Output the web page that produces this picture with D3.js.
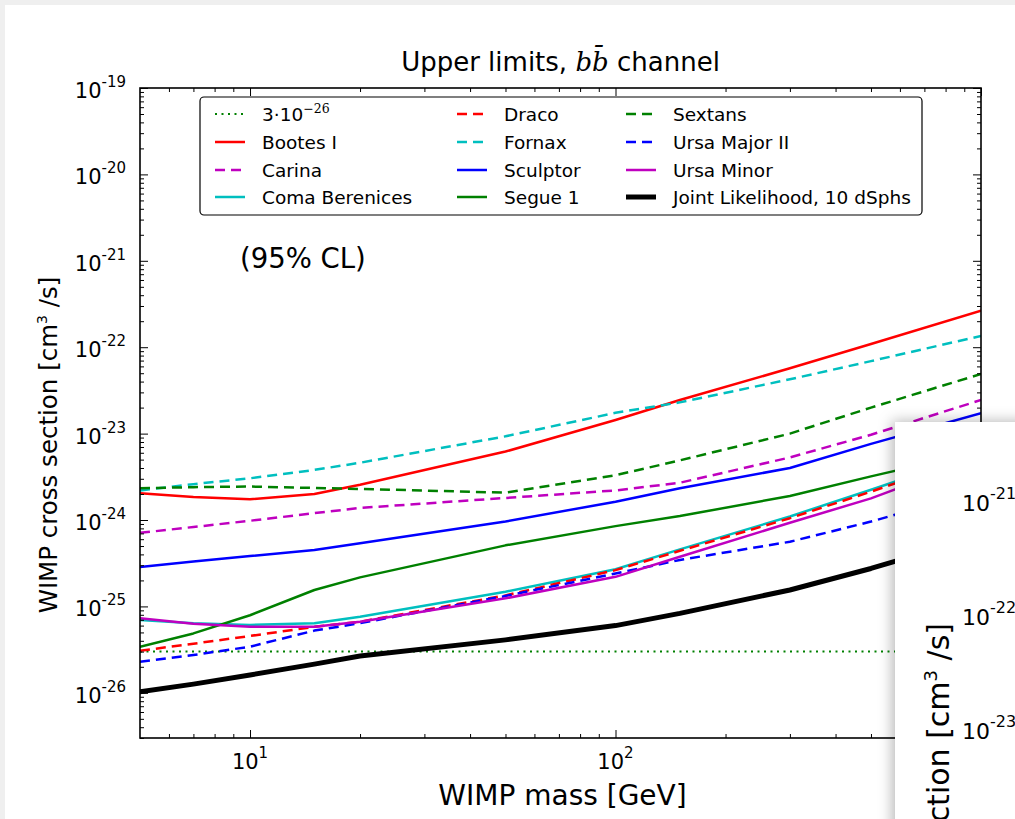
<!DOCTYPE html>
<html><head><meta charset="utf-8">
<script src="https://cdn.jsdelivr.net/npm/d3@7"></script>
<style>
html,body{margin:0;padding:0;background:#efefef;overflow:hidden}
svg{display:block}
text{font-family:"DejaVu Sans",sans-serif;fill:#000}
</style></head><body>
<svg id="c" width="1015" height="819"></svg>
<script>
// ---- data ----
const masses = [5, 7, 10, 15, 20, 50, 100, 150, 300, 500, 1000];
const thermal = [3e-26, 3e-26, 3e-26, 3e-26, 3e-26, 3e-26, 3e-26, 3e-26, 3e-26, 3e-26, 3e-26];
const bootesI = [2.04e-24, 1.85e-24, 1.74e-24, 2.0e-24, 2.56e-24, 6.2e-24, 1.44e-23, 2.45e-23, 5.7e-23, 1.09e-22, 2.64e-22];
const carina = [7.1e-25, 8.3e-25, 9.8e-25, 1.2e-24, 1.38e-24, 1.8e-24, 2.2e-24, 2.7e-24, 5.3e-24, 9.7e-24, 2.45e-23];
const comaBerenices = [6.97e-26, 6.4e-26, 6.1e-26, 6.4e-26, 7.6e-26, 1.48e-25, 2.69e-25, 4.57e-25, 1.1e-24, 2.24e-24, 6.0e-24];
const draco = [3.07e-26, 3.7e-26, 4.55e-26, 5.8e-26, 6.65e-26, 1.34e-25, 2.63e-25, 4.4e-25, 1.05e-24, 2.13e-24, 5.8e-24];
const fornax = [2.2e-24, 2.6e-24, 3.04e-24, 3.8e-24, 4.6e-24, 9.3e-24, 1.74e-23, 2.3e-23, 4.25e-23, 6.9e-23, 1.35e-22];
const sculptor = [2.86e-25, 3.3e-25, 3.83e-25, 4.5e-25, 5.37e-25, 9.6e-25, 1.63e-24, 2.33e-24, 4.0e-24, 7.6e-24, 1.72e-23];
const segue1 = [3.42e-26, 4.87e-26, 7.9e-26, 1.55e-25, 2.17e-25, 5.09e-25, 8.5e-25, 1.11e-24, 1.9e-24, 3.2e-24, 6.3e-24];
const sextans = [2.33e-24, 2.4e-24, 2.44e-24, 2.35e-24, 2.29e-24, 2.07e-24, 3.3e-24, 4.9e-24, 1.0e-23, 2.0e-23, 4.9e-23];
const ursaMajorII = [2.29e-26, 2.74e-26, 3.42e-26, 5.25e-26, 6.4e-26, 1.32e-25, 2.4e-25, 3.45e-25, 5.6e-25, 9.6e-25, 2.2e-24];
const ursaMinor = [7.28e-26, 6.3e-26, 5.8e-26, 5.8e-26, 6.65e-26, 1.24e-25, 2.2e-25, 3.76e-25, 9.3e-25, 1.78e-24, 5.3e-24];
const jointLikelihood = [1.03e-26, 1.26e-26, 1.61e-26, 2.15e-26, 2.67e-26, 4.1e-26, 6.0e-26, 8.3e-26, 1.55e-25, 2.75e-25, 6.5e-25];

const seriesLabels = ["3·10", "Bootes I", "Carina", "Coma Berenices", "Draco", "Fornax", "Sculptor", "Segue 1", "Sextans", "Ursa Major II", "Ursa Minor", "Joint Likelihood, 10 dSphs"];
const xMajorTicks = [10, 100, 1000];
const xTickExponents = ["1", "2", "3"];
const yMajorTicks = [1e-19, 1e-20, 1e-21, 1e-22, 1e-23, 1e-24, 1e-25, 1e-26];
const yTickExponents = ["-19", "-20", "-21", "-22", "-23", "-24", "-25", "-26"];
const cardTickExponents = ["-21", "-22", "-23"];

// ---- styles (kept apart from data) ----
const series = [
  {v: thermal,         c: "#008000", w: 2,   d: "2,4.5"},
  {v: bootesI,         c: "#ff0000", w: 2.5, d: null},
  {v: carina,          c: "#bf00bf", w: 2.5, d: "10,6"},
  {v: comaBerenices,   c: "#00bfbf", w: 2.5, d: null},
  {v: draco,           c: "#ff0000", w: 2.5, d: "10,6"},
  {v: fornax,          c: "#00bfbf", w: 2.5, d: "10,6"},
  {v: sculptor,        c: "#0000ff", w: 2.5, d: null},
  {v: segue1,          c: "#008000", w: 2.5, d: null},
  {v: sextans,         c: "#008000", w: 2.5, d: "10,6"},
  {v: ursaMajorII,     c: "#0000ff", w: 2.5, d: "10,6"},
  {v: ursaMinor,       c: "#bf00bf", w: 2.5, d: null},
  {v: jointLikelihood, c: "#000000", w: 5,   d: null}
].map((s, i) => Object.assign(s, {label: seriesLabels[i]}));

const W = 1015, H = 819;
const L = 140, R = 981, T = 88, B = 738;
const svg = d3.select("#c");

// page background
svg.append("rect").attr("width", W).attr("height", H).attr("fill", "#efefef");
svg.append("rect").attr("x", 5).attr("y", 5).attr("width", W).attr("height", H).attr("fill", "#fff");

const x = d3.scaleLog().domain([5, 1000]).range([L, R]);
const y = d3.scaleLog().domain([3e-27, 1e-19]).range([B, T]);

const defs = svg.append("defs");
defs.append("clipPath").attr("id", "plot").append("rect")
  .attr("x", L).attr("y", T).attr("width", R - L).attr("height", B - T);

// lines
const line = d3.line().x((d, i) => x(masses[i])).y(d => y(d));
const lg = svg.append("g").attr("clip-path", "url(#plot)");
series.forEach(s => {
  lg.append("path").attr("d", line(s.v)).attr("fill", "none")
    .attr("stroke", s.c).attr("stroke-width", s.w)
    .attr("stroke-dasharray", s.d).attr("stroke-linejoin", "round")
    .attr("stroke-linecap", s.d ? "butt" : "round");
});

// ticks
const xMinor = [];
[1, 10, 100].forEach(dd => { for (let k = 2; k <= 9; k++) { const v = k * dd; if (v > 5 && v < 1000) xMinor.push(v); } });
const yMinor = [];
for (let e = -27; e <= -20; e++) { for (let k = 2; k <= 9; k++) { const v = k * Math.pow(10, e); if (v > 2.99e-27 && v < 1e-19) yMinor.push(v); } }

function ax(gen, scale, vals, size, tr) {
  const g = svg.append("g").attr("transform", tr)
    .call(gen(scale).tickValues(vals).tickSizeInner(-size).tickSizeOuter(0).tickFormat(""));
  g.select(".domain").remove();
  g.selectAll("line").attr("stroke", "#000").attr("stroke-width", 1);
}
ax(d3.axisBottom, x, xMajorTicks, 8, `translate(0,${B})`);
ax(d3.axisBottom, x, xMinor, 4, `translate(0,${B})`);
ax(d3.axisTop, x, xMajorTicks, 8, `translate(0,${T})`);
ax(d3.axisTop, x, xMinor, 4, `translate(0,${T})`);
ax(d3.axisLeft, y, yMajorTicks, 8, `translate(${L},0)`);
ax(d3.axisLeft, y, yMinor, 4, `translate(${L},0)`);
ax(d3.axisRight, y, yMajorTicks, 8, `translate(${R},0)`);
ax(d3.axisRight, y, yMinor, 4, `translate(${R},0)`);

// frame
svg.append("rect").attr("x", L).attr("y", T).attr("width", R - L).attr("height", B - T)
  .attr("fill", "none").attr("stroke", "#000").attr("stroke-width", 1.6);

// y tick labels
yMajorTicks.forEach((v, i) => {
  const t = svg.append("text").attr("x", 126).attr("y", y(v) + 10)
    .attr("text-anchor", "end").attr("font-size", 21);
  t.append("tspan").text("10");
  t.append("tspan").attr("dy", -11).attr("font-size", 15).text(yTickExponents[i]);
});
// x tick labels
xMajorTicks.forEach((v, i) => {
  const t = svg.append("text").attr("x", x(v)).attr("y", 769)
    .attr("text-anchor", "middle").attr("font-size", 21);
  t.append("tspan").text("10");
  t.append("tspan").attr("dy", -11).attr("font-size", 15).text(xTickExponents[i]);
});

// axis titles
svg.append("text").attr("x", (L + R) / 2 + 2).attr("y", 805).attr("text-anchor", "middle")
  .attr("font-size", 28).text("WIMP mass [GeV]");
const yl = svg.append("text").attr("transform", "translate(57,445) rotate(-90)")
  .attr("text-anchor", "middle").attr("font-size", 24.5);
yl.append("tspan").text("WIMP cross section [cm");
yl.append("tspan").attr("dy", -10).attr("font-size", 14).text("3");
yl.append("tspan").attr("dy", 10).text(" /s]");

// title
const tt = svg.append("text").attr("x", (L + R) / 2).attr("y", 71).attr("text-anchor", "middle").attr("font-size", 26);
tt.append("tspan").text("Upper limits, ");
tt.append("tspan").attr("font-family", "DejaVu Serif").attr("font-style", "italic").text("b");
tt.append("tspan").attr("font-family", "DejaVu Serif").attr("font-style", "italic").text("b\u0304");
tt.append("tspan").text(" channel");

// (95% CL)
svg.append("text").attr("x", 240).attr("y", 268).attr("font-family", "Liberation Sans, Arial, sans-serif")
  .attr("font-size", 27.5).text("(95% CL)");

// legend
svg.append("rect").attr("x", 200).attr("y", 97).attr("width", 722).attr("height", 118)
  .attr("rx", 4).attr("fill", "#fff").attr("stroke", "#000").attr("stroke-width", 1.2);
const colX = [215, 457, 626];
const rowY = [114, 142, 170, 197];
series.forEach((s, i) => {
  const col = Math.floor(i / 4), row = i % 4;
  const hx = colX[col], hy = rowY[row];
  svg.append("line").attr("x1", hx).attr("x2", hx + 30).attr("y1", hy).attr("y2", hy)
    .attr("stroke", s.c).attr("stroke-width", s.w).attr("stroke-dasharray", s.d);
  const t = svg.append("text").attr("x", hx + 47).attr("y", hy + 6.5).attr("font-size", 18.5);
  t.append("tspan").text(s.label);
  if (i === 0) {
    t.append("tspan").attr("dy", -8).attr("font-size", 12.5).attr("font-family", "DejaVu Serif").text("\u221226");
  }
});

// overlapping card (second figure) at bottom right
const f = defs.append("filter").attr("id", "sh").attr("x", "-30%").attr("y", "-30%").attr("width", "160%").attr("height", "160%");
f.append("feDropShadow").attr("dx", -3).attr("dy", -1).attr("stdDeviation", 7).attr("flood-color", "#000").attr("flood-opacity", 0.28);
svg.append("rect").attr("x", 895).attr("y", 422).attr("width", 200).attr("height", 500)
  .attr("fill", "#fff").attr("filter", "url(#sh)");
const cardTicks = [511, 625, 739];
cardTicks.forEach((yy, i) => {
  const t = svg.append("text").attr("x", 962).attr("y", yy).attr("font-size", 22);
  t.append("tspan").text("10");
  t.append("tspan").attr("dy", -12).attr("font-size", 16).text(cardTickExponents[i]);
});
const cl = svg.append("text").attr("transform", "translate(949,623) rotate(-90)")
  .attr("text-anchor", "end").attr("font-size", 30);
cl.append("tspan").text("WIMP cross section [cm");
cl.append("tspan").attr("dy", -12).attr("font-size", 18).text("3");
cl.append("tspan").attr("dy", 12).text(" /s]");
</script>
</body></html>
